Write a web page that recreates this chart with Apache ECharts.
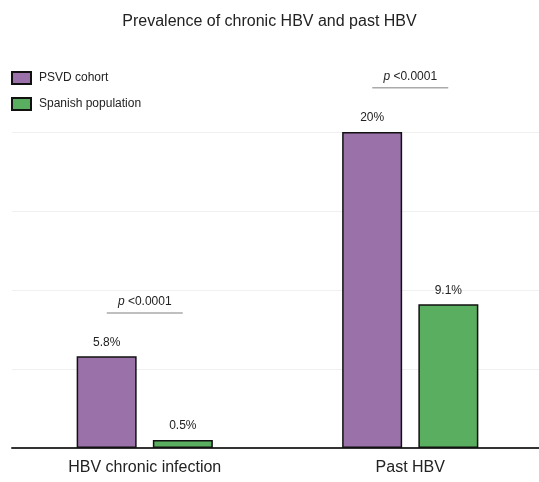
<!DOCTYPE html>
<html>
<head>
<meta charset="utf-8">
<script src="https://cdn.jsdelivr.net/npm/echarts@6/dist/echarts.min.js"></script>
<style>
  html, body { margin: 0; padding: 0; background: #fff; }
  #main { width: 539px; height: 482px; }
</style>
</head>
<body>
<div id="main"></div>
<script>
// data
var categories = ['HBV chronic infection', 'Past HBV'];
var psvdValues = [5.8, 20];
var spanishValues = [0.5, 9.1];
var pLabels = ['<0.0001', '<0.0001'];
var pLevels = [8.55, 22.8];   // height of the p-value brackets (in %)
var yTicks = [0, 5, 10, 15, 20];

var chart = echarts.init(document.getElementById('main'));

var labelOpt = {
  show: true,
  position: 'top',
  distance: 8,
  fontFamily: 'Liberation Sans, Arial',
  fontSize: 12,
  color: '#222',
  formatter: function (p) { return p.value + '%'; }
};

var option = {
  animation: false,
  title: {
    text: 'Prevalence of chronic HBV and past HBV',
    left: 'center',
    top: 9,
    textStyle: { fontFamily: 'Liberation Sans, Arial', fontSize: 16, fontWeight: 'normal', color: '#222' }
  },
  legend: {
    orient: 'vertical',
    left: 6,
    top: 66,
    icon: 'rect',
    itemWidth: 19,
    itemHeight: 12,
    itemGap: 12,
    textStyle: { fontFamily: 'Liberation Sans, Arial', fontSize: 12, color: '#222', padding: [0, 0, 0, 3] },
    data: ['PSVD cohort', 'Spanish population']
  },
  grid: { left: 12, right: -4, top: 132, bottom: 34, outerBoundsMode: 'none', containLabel: false },
  xAxis: {
    type: 'category',
    data: categories,
    axisLine: { lineStyle: { color: '#333', width: 2 } },
    axisTick: { show: false },
    axisLabel: { fontFamily: 'Liberation Sans, Arial', fontSize: 16, color: '#222', margin: 12 }
  },
  yAxis: {
    type: 'value',
    min: yTicks[0],
    max: yTicks[yTicks.length - 1],
    interval: 5,
    axisLabel: { show: false },
    axisLine: { show: false },
    axisTick: { show: false },
    splitLine: { lineStyle: { color: '#f0f0f0', width: 1 } }
  },
  series: [
    {
      name: 'PSVD cohort',
      type: 'bar',
      data: psvdValues,
      barWidth: 60,
      barGap: '27%',
      itemStyle: { color: '#9b71aa', borderColor: '#111', borderWidth: 1.5 },
      label: labelOpt
    },
    {
      name: 'Spanish population',
      type: 'bar',
      data: spanishValues,
      barWidth: 60,
      barGap: '27%',
      itemStyle: { color: '#5aae5f', borderColor: '#111', borderWidth: 1.5 },
      label: labelOpt
    }
  ]
};
chart.setOption(option);

// p-value brackets, placed from the axes
var graphics = [];
categories.forEach(function (cat, i) {
  var pt = chart.convertToPixel({ gridIndex: 0 }, [cat, pLevels[i]]);
  graphics.push({
    type: 'line',
    shape: { x1: pt[0] - 38, y1: pt[1], x2: pt[0] + 38, y2: pt[1] },
    style: { stroke: '#aaa', lineWidth: 1.5 }
  });
  graphics.push({
    type: 'text',
    x: pt[0],
    y: pt[1] - 11,
    style: {
      text: '{i|p} ' + pLabels[i],
      rich: {
        i: { fontStyle: 'italic', fontFamily: 'Liberation Sans, Arial', fontSize: 12, fill: '#222' }
      },
      fontFamily: 'Liberation Sans, Arial',
      fontSize: 12,
      fill: '#222',
      align: 'center',
      verticalAlign: 'middle'
    }
  });
});
chart.setOption({ graphic: graphics });
</script>
</body>
</html>
